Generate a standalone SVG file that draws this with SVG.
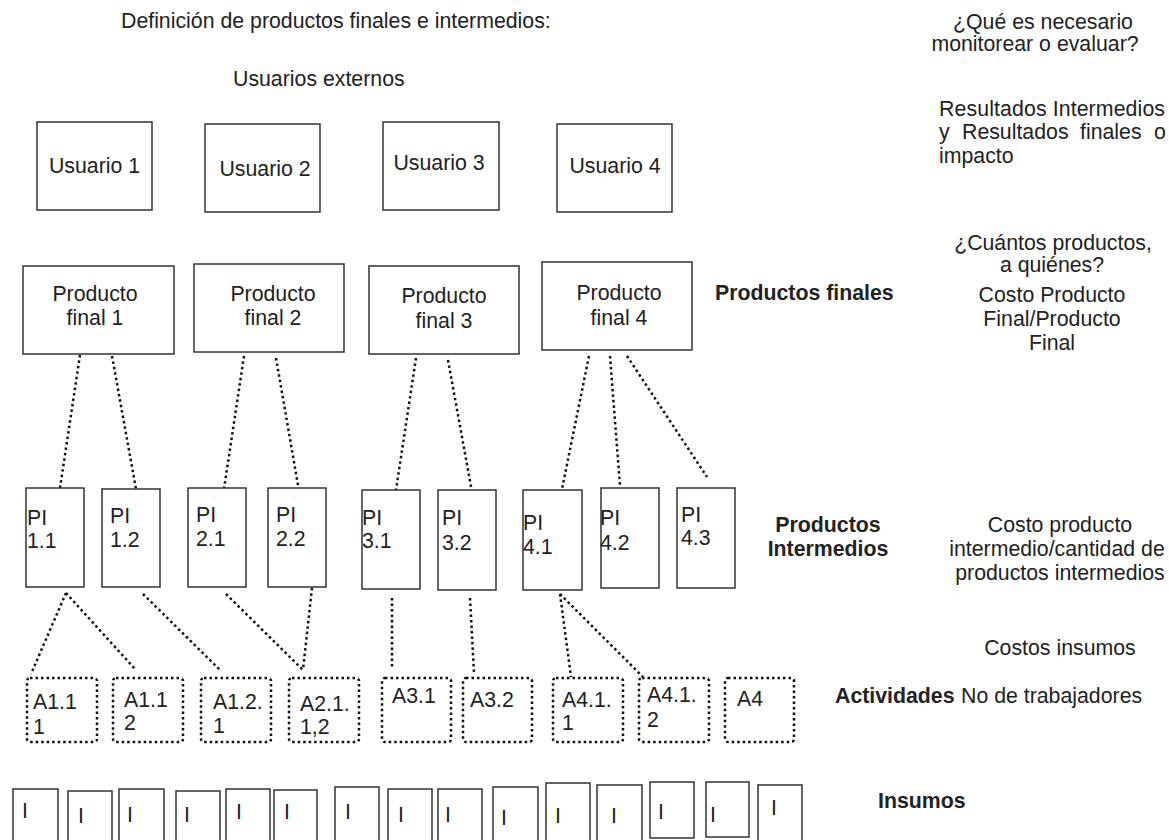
<svg xmlns="http://www.w3.org/2000/svg" width="1169" height="840" viewBox="0 0 1169 840">
<style>
.bg{fill:#ffffff}
.box{fill:#ffffff;stroke:#333333;stroke-width:1.5}
.abox{fill:#ffffff;stroke:#111111;stroke-width:2.5;stroke-dasharray:2.5 3}
.dot{fill:none;stroke:#111111;stroke-width:2.5;stroke-dasharray:2.5 3}
.t{font-family:"Liberation Sans",Arial,sans-serif;font-size:21.3px;fill:#222222}
.b{font-weight:bold}
.c{text-anchor:middle}
</style>
<rect class="bg" x="0" y="0" width="1169" height="840"/>

<g id="labels">
<text class="t" x="121" y="28">Definición de productos finales e intermedios:</text>
<text class="t" x="233" y="86">Usuarios externos</text>
<text class="t c" x="1043" y="29">¿Qué es necesario</text>
<text class="t c" x="1035" y="51">monitorear o evaluar?</text>
<text class="t" x="939" y="116" textLength="226" lengthAdjust="spacing">Resultados Intermedios</text>
<text class="t" y="139"><tspan x="939">y</tspan><tspan x="962">Resultados</tspan><tspan x="1080">finales</tspan><tspan x="1154">o</tspan></text>
<text class="t" x="939" y="163">impacto</text>
<text class="t c" x="1053" y="250">¿Cuántos productos,</text>
<text class="t c" x="1052" y="272">a quiénes?</text>
<text class="t b" x="715" y="300">Productos finales</text>
<text class="t c" x="1052" y="302">Costo Producto</text>
<text class="t c" x="1052" y="326">Final/Producto</text>
<text class="t c" x="1052" y="350">Final</text>
<text class="t b c" x="828" y="532">Productos</text>
<text class="t b c" x="828" y="556">Intermedios</text>
<text class="t c" x="1060" y="532">Costo producto</text>
<text class="t c" x="1057" y="556">intermedio/cantidad de</text>
<text class="t c" x="1060" y="580">productos intermedios</text>
<text class="t c" x="1060" y="655">Costos insumos</text>
<text class="t b" x="835" y="703">Actividades</text>
<text class="t" x="961" y="703">No de trabajadores</text>
<text class="t b" x="878" y="808">Insumos</text>
</g>

<g id="connectors">
<line class="dot" x1="80" y1="355" x2="60" y2="488"/>
<line class="dot" x1="112" y1="356" x2="136" y2="489"/>
<line class="dot" x1="244" y1="356" x2="224" y2="489"/>
<line class="dot" x1="276" y1="358" x2="299" y2="491"/>
<line class="dot" x1="416" y1="358" x2="396" y2="490"/>
<line class="dot" x1="448" y1="360" x2="472" y2="492"/>
<line class="dot" x1="589" y1="356" x2="562" y2="489"/>
<line class="dot" x1="610" y1="356" x2="620" y2="486"/>
<line class="dot" x1="627" y1="356" x2="707" y2="477"/>
<line class="dot" x1="66" y1="593" x2="31" y2="674"/>
<line class="dot" x1="66" y1="593" x2="135" y2="669"/>
<line class="dot" x1="143" y1="594" x2="220" y2="670"/>
<line class="dot" x1="226" y1="594" x2="303" y2="670"/>
<line class="dot" x1="312" y1="588" x2="303" y2="670"/>
<line class="dot" x1="392" y1="598" x2="392" y2="669"/>
<line class="dot" x1="470" y1="598" x2="474" y2="673"/>
<line class="dot" x1="560" y1="594" x2="571" y2="677"/>
<line class="dot" x1="560" y1="594" x2="643" y2="677"/>
</g>

<g id="usuario1"><rect class="box" x="37" y="122" width="115" height="88"/><text class="t c" x="94.5" y="173">Usuario 1</text></g>
<g id="usuario2"><rect class="box" x="205" y="124" width="115" height="88"/><text class="t c" x="265" y="176">Usuario 2</text></g>
<g id="usuario3"><rect class="box" x="383" y="122" width="116" height="88"/><text class="t c" x="439" y="170">Usuario 3</text></g>
<g id="usuario4"><rect class="box" x="557" y="124" width="115" height="88"/><text class="t c" x="615" y="173">Usuario 4</text></g>

<g id="pf1"><rect class="box" x="23" y="266" width="151" height="88"/><text class="t c" x="95" y="301">Producto</text><text class="t c" x="95" y="325">final 1</text></g>
<g id="pf2"><rect class="box" x="194" y="264" width="150" height="88"/><text class="t c" x="273" y="301">Producto</text><text class="t c" x="273" y="325">final 2</text></g>
<g id="pf3"><rect class="box" x="369" y="266" width="150" height="88"/><text class="t c" x="444" y="303">Producto</text><text class="t c" x="444" y="328">final 3</text></g>
<g id="pf4"><rect class="box" x="542" y="262" width="150" height="88"/><text class="t c" x="619" y="300">Producto</text><text class="t c" x="619" y="325">final 4</text></g>

<g id="pi11"><rect class="box" x="26" y="488" width="58" height="99"/><text class="t" x="27" y="525">PI</text><text class="t" x="27" y="548">1.1</text></g>
<g id="pi12"><rect class="box" x="102" y="489" width="58" height="98"/><text class="t" x="110" y="523">PI</text><text class="t" x="110" y="547">1.2</text></g>
<g id="pi21"><rect class="box" x="188" y="488" width="58" height="99"/><text class="t" x="196" y="522">PI</text><text class="t" x="196" y="546">2.1</text></g>
<g id="pi22"><rect class="box" x="268" y="488" width="58" height="99"/><text class="t" x="276" y="522">PI</text><text class="t" x="276" y="546">2.2</text></g>
<g id="pi31"><rect class="box" x="362" y="490" width="58" height="99"/><text class="t" x="362" y="525">PI</text><text class="t" x="362" y="548">3.1</text></g>
<g id="pi32"><rect class="box" x="438" y="490" width="58" height="100"/><text class="t" x="442" y="525">PI</text><text class="t" x="442" y="550">3.2</text></g>
<g id="pi41"><rect class="box" x="523" y="490" width="59" height="100"/><text class="t" x="523" y="530">PI</text><text class="t" x="523" y="554">4.1</text></g>
<g id="pi42"><rect class="box" x="601" y="488" width="58" height="100"/><text class="t" x="600" y="525">PI</text><text class="t" x="600" y="550">4.2</text></g>
<g id="pi43"><rect class="box" x="677" y="488" width="58" height="100"/><text class="t" x="681" y="522">PI</text><text class="t" x="681" y="545">4.3</text></g>

<g id="a111"><rect class="abox" x="27" y="678" width="70" height="64" rx="3"/><text class="t" x="33" y="709">A1.1</text><text class="t" x="33" y="734">1</text></g>
<g id="a112"><rect class="abox" x="113" y="678" width="70" height="64" rx="3"/><text class="t" x="124" y="707">A1.1</text><text class="t" x="124" y="730">2</text></g>
<g id="a121"><rect class="abox" x="201" y="678" width="70" height="64" rx="3"/><text class="t" x="213" y="709">A1.2.</text><text class="t" x="213" y="733">1</text></g>
<g id="a2112"><rect class="abox" x="289" y="678" width="70" height="64" rx="3"/><text class="t" x="300" y="711">A2.1.</text><text class="t" x="300" y="734">1,2</text></g>
<g id="a31"><rect class="abox" x="382" y="678" width="69" height="64" rx="3"/><text class="t" x="392" y="703">A3.1</text></g>
<g id="a32"><rect class="abox" x="463" y="678" width="69" height="64" rx="3"/><text class="t" x="470" y="707">A3.2</text></g>
<g id="a411"><rect class="abox" x="553" y="678" width="70" height="64" rx="3"/><text class="t" x="562" y="707">A4.1.</text><text class="t" x="562" y="730">1</text></g>
<g id="a412"><rect class="abox" x="639" y="678" width="70" height="64" rx="3"/><text class="t" x="647" y="702">A4.1.</text><text class="t" x="647" y="727">2</text></g>
<g id="a4"><rect class="abox" x="725" y="678" width="69" height="64" rx="3"/><text class="t" x="737" y="706">A4</text></g>

<g id="i1"><rect class="box" x="13" y="789" width="45" height="60"/><text class="t" x="22" y="818">I</text></g>
<g id="i2"><rect class="box" x="68" y="791" width="44" height="60"/><text class="t" x="78" y="823">I</text></g>
<g id="i3"><rect class="box" x="119" y="789" width="45" height="60"/><text class="t" x="127" y="822">I</text></g>
<g id="i4"><rect class="box" x="176" y="791" width="44" height="60"/><text class="t" x="184" y="822">I</text></g>
<g id="i5"><rect class="box" x="226" y="789" width="44" height="60"/><text class="t" x="236" y="819">I</text></g>
<g id="i6"><rect class="box" x="274" y="790" width="43" height="60"/><text class="t" x="284" y="819">I</text></g>
<g id="i7"><rect class="box" x="335" y="787" width="44" height="60"/><text class="t" x="345" y="819">I</text></g>
<g id="i8"><rect class="box" x="388" y="789" width="44" height="60"/><text class="t" x="398" y="822">I</text></g>
<g id="i9"><rect class="box" x="438" y="789" width="44" height="60"/><text class="t" x="445" y="822">I</text></g>
<g id="i10"><rect class="box" x="493" y="787" width="45" height="60"/><text class="t" x="501" y="825">I</text></g>
<g id="i11"><rect class="box" x="546" y="783" width="44" height="60"/><text class="t" x="555" y="823">I</text></g>
<g id="i12"><rect class="box" x="597" y="785" width="45" height="60"/><text class="t" x="611" y="823">I</text></g>
<g id="i13"><rect class="box" x="650" y="782" width="44" height="56"/><text class="t" x="658" y="819">I</text></g>
<g id="i14"><rect class="box" x="706" y="782" width="43" height="55"/><text class="t" x="710" y="822">I</text></g>
<g id="i15"><rect class="box" x="758" y="785" width="44" height="60"/><text class="t" x="771" y="815">I</text></g>
</svg>
